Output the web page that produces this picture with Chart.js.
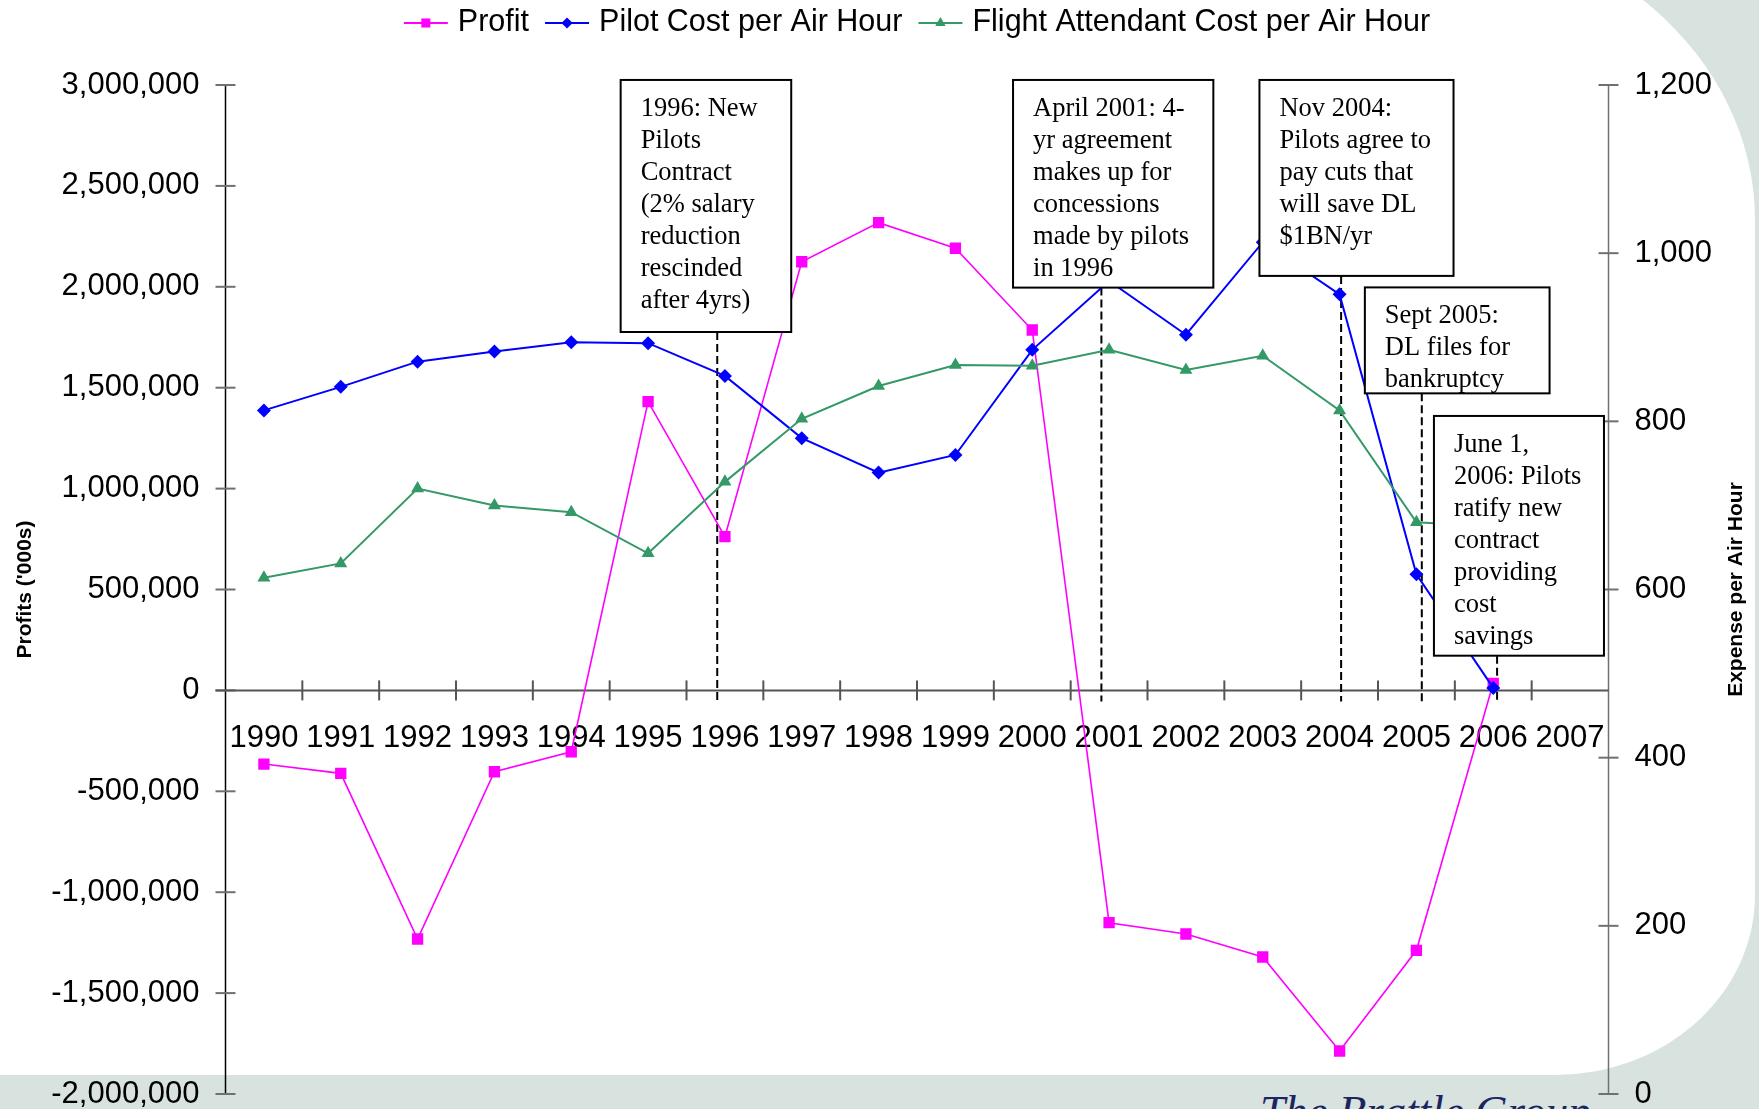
<!DOCTYPE html>
<html>
<head>
<meta charset="utf-8">
<script src="https://cdn.jsdelivr.net/npm/chart.js@4.4.1/dist/chart.umd.min.js"></script>
<style>
html,body{margin:0;padding:0;width:1759px;height:1109px;overflow:hidden;background:#d8e2df;}
#panel{position:absolute;left:-60px;top:-80px;width:1815px;height:1155px;background:#fff;
  border-top-right-radius:350px 300px;border-bottom-right-radius:200px 180px;}
#wrap{position:absolute;left:0;top:0;width:1759px;height:1109px;}
#brand{position:absolute;left:1260px;top:1089px;font:italic 45px 'Liberation Serif',serif;line-height:1;color:#1b2660;white-space:nowrap;}
</style>
</head>
<body>
<div id="panel"></div>
<div id="brand">The Brattle Group</div>
<div id="wrap"><canvas id="c" width="1759" height="1109" style="width:1759px;height:1109px"></canvas></div>
<script>
// ---------- data ----------
const years = ['1990','1991','1992','1993','1994','1995','1996','1997','1998','1999','2000','2001','2002','2003','2004','2005','2006','2007'];
const profit = [-365000,-411000,-1232000,-403000,-304000,1431000,762000,2124000,2318000,2191000,1786000,-1151000,-1207000,-1321000,-1787000,-1288000,35000,null];
const pilotCost = [813,841,871,883,894,893,854,780,739,760,885,967,903,1013,951,618,483,null];
const attendantCost = [614,631,720,700,692,643,728,803,842,867,866,885,861,878,813,680,675,null];
const profitTicks = [-2000000,-1500000,-1000000,-500000,0,500000,1000000,1500000,2000000,2500000,3000000];
const expenseTicks = [0,200,400,600,800,1000,1200];
const seriesNames = ['Profit','Pilot Cost per Air Hour','Flight Attendant Cost per Air Hour'];
const axisTitles = ["Profits ('000s)", 'Expense per Air Hour'];

// annotation callouts: event position on category axis, box span (category units / profit units)
const notes = [
  {event: 5.9,   x: [4.643, 6.863],   y: [3025000, 1776000], lines: ['1996: New','Pilots','Contract','(2% salary','reduction','rescinded','after 4yrs)']},
  {event: 10.9,  x: [9.750, 12.357],  y: [3025000, 1996000], lines: ['April 2001: 4-','yr agreement','makes up for','concessions','made by pilots','in 1996']},
  {event: 14.02, x: [12.957, 15.483], y: [3025000, 2054000], lines: ['Nov 2004:','Pilots agree to','pay cuts that','will save DL','$1BN/yr']},
  {event: 15.07, x: [14.329, 16.733], y: [1997000, 1472000], lines: ['Sept 2005:','DL files for','bankruptcy']},
  {event: 16.05, x: [15.228, 17.441], y: [1360000, 172000],  lines: ['June 1,','2006: Pilots','ratify new','contract','providing','cost','savings']}
];
const eventLineBottom = -55000;

const SANS = '"Liberation Sans", Arial, sans-serif';
const SERIF = '"Liberation Serif", "Times New Roman", serif';

function marker(ctx, style, cx, cy, r) {
  ctx.beginPath();
  if (style === 'rect') { const s = r * Math.SQRT1_2; ctx.rect(cx - s, cy - s, 2 * s, 2 * s); }
  else if (style === 'rectRot') { ctx.moveTo(cx, cy - r); ctx.lineTo(cx + r, cy); ctx.lineTo(cx, cy + r); ctx.lineTo(cx - r, cy); ctx.closePath(); }
  else { ctx.moveTo(cx, cy - r); ctx.lineTo(cx + r * 0.866, cy + r / 2); ctx.lineTo(cx - r * 0.866, cy + r / 2); ctx.closePath(); }
  ctx.fill();
}
function seg(ctx, x1, y1, x2, y2) { ctx.beginPath(); ctx.moveTo(x1, y1); ctx.lineTo(x2, y2); ctx.stroke(); }

const deco = {
  id: 'deco',
  beforeDatasetsDraw(chart) {
    const {ctx, chartArea: a, scales: {x, y, y1}} = chart;
    ctx.save();
    // axis lines
    ctx.strokeStyle = '#000'; ctx.lineWidth = 1.5;
    seg(ctx, a.left, a.top, a.left, a.bottom);
    ctx.strokeStyle = '#707070';
    seg(ctx, a.right, a.top, a.right, a.bottom);
    // y ticks (cross)
    ctx.strokeStyle = '#707070'; ctx.lineWidth = 2;
    y.ticks.forEach(t => { const p = y.getPixelForValue(t.value); seg(ctx, a.left - 10, p, a.left + 10, p); });
    y1.ticks.forEach(t => { const p = y1.getPixelForValue(t.value); seg(ctx, a.right - 10, p, a.right + 10, p); });
    // x axis at profit = 0
    const y0 = y.getPixelForValue(0);
    ctx.strokeStyle = '#555'; ctx.lineWidth = 2;
    seg(ctx, a.left - 10, y0, a.right, y0);
    for (let i = 1; i < years.length; i++) {
      const p = (x.getPixelForValue(i - 1) + x.getPixelForValue(i)) / 2;
      seg(ctx, p, y0 - 10, p, y0 + 10);
    }
    // event dashed lines
    ctx.strokeStyle = '#000'; ctx.lineWidth = 2; ctx.setLineDash([8, 4]);
    notes.forEach(n => {
      const px = x.getPixelForValue(n.event);
      seg(ctx, px, y.getPixelForValue(n.y[1]), px, y.getPixelForValue(eventLineBottom));
    });
    ctx.restore();
  },
  afterDatasetsDraw(chart) {
    const {ctx, scales: {x, y}} = chart;
    ctx.save();
    notes.forEach(n => {
      const l = x.getPixelForValue(n.x[0]), r = x.getPixelForValue(n.x[1]);
      const t = y.getPixelForValue(n.y[0]), b = y.getPixelForValue(n.y[1]);
      ctx.fillStyle = '#fff'; ctx.fillRect(l, t, r - l, b - t);
      ctx.strokeStyle = '#000'; ctx.lineWidth = 2; ctx.strokeRect(l, t, r - l, b - t);
      ctx.fillStyle = '#000'; ctx.font = '26.5px ' + SERIF; ctx.textBaseline = 'alphabetic'; ctx.textAlign = 'left';
      n.lines.forEach((s, i) => ctx.fillText(s, l + 20, t + 36 + 32 * i));
    });
    ctx.restore();
  },
  afterDraw(chart) {
    const {ctx, chartArea: a} = chart;
    ctx.save();
    // legend
    ctx.font = '30.5px ' + SANS;
    const items = chart.data.datasets.map(ds => ({ds, w: ctx.measureText(ds.label).width}));
    const symW = 44, gap1 = 10, gap2 = 16;
    const total = items.reduce((s, it) => s + symW + gap1 + it.w, 0) + gap2 * (items.length - 1);
    let sx = (a.left + a.right) / 2 - total / 2;
    const ly = 23;
    items.forEach(it => {
      ctx.strokeStyle = it.ds.borderColor; ctx.lineWidth = 1.8;
      seg(ctx, sx, ly, sx + symW, ly);
      ctx.fillStyle = it.ds.pointBackgroundColor;
      marker(ctx, it.ds.pointStyle, sx + symW / 2, ly, it.ds.pointRadius * 0.8);
      ctx.fillStyle = '#000'; ctx.textBaseline = 'alphabetic'; ctx.textAlign = 'left';
      ctx.fillText(it.ds.label, sx + symW + gap1, 31);
      sx += symW + gap1 + it.w + gap2;
    });
    // axis titles (both read bottom-to-top)
    ctx.font = 'bold 21px ' + SANS; ctx.textAlign = 'center'; ctx.textBaseline = 'middle'; ctx.fillStyle = '#000';
    const cy = (a.top + a.bottom) / 2;
    [[25, axisTitles[0]], [1736, axisTitles[1]]].forEach(([cx, txt]) => {
      ctx.save(); ctx.translate(cx, cy); ctx.rotate(-Math.PI / 2); ctx.fillText(txt, 0, 0); ctx.restore();
    });
    ctx.restore();
  }
};

const tickFont = {family: SANS, size: 31};
new Chart(document.getElementById('c'), {
  type: 'line',
  data: {
    labels: years,
    datasets: [
      {label: seriesNames[0], data: profit, yAxisID: 'y', order: 3, borderColor: '#ff00ff', backgroundColor: '#ff00ff',
       pointBackgroundColor: '#ff00ff', pointBorderColor: '#ff00ff', borderWidth: 1.6, pointStyle: 'rect', pointRadius: 8, pointBorderWidth: 0, tension: 0},
      {label: seriesNames[1], data: pilotCost, yAxisID: 'y1', order: 2, borderColor: '#0000ff', backgroundColor: '#0000ff',
       pointBackgroundColor: '#0000ff', pointBorderColor: '#0000ff', borderWidth: 2, pointStyle: 'rectRot', pointRadius: 7, pointBorderWidth: 0, tension: 0},
      {label: seriesNames[2], data: attendantCost, yAxisID: 'y1', order: 1, borderColor: '#339966', backgroundColor: '#339966',
       pointBackgroundColor: '#339966', pointBorderColor: '#339966', borderWidth: 2, pointStyle: 'triangle', pointRadius: 7.5, pointBorderWidth: 0, tension: 0}
    ]
  },
  options: {
    responsive: false, animation: false, devicePixelRatio: 1,
    layout: {padding: {top: 85, bottom: 15, left: 0, right: 0}},
    plugins: {legend: {display: false}, tooltip: {enabled: false}},
    scales: {
      x: {
        type: 'category', position: {y: 0}, offset: true,
        grid: {display: false, drawTicks: false, offset: true}, border: {display: false},
        ticks: {font: tickFont, color: '#000', padding: 29, maxRotation: 0, minRotation: 0, autoSkip: false},
        afterFit(s) { s.paddingLeft = 0; s.paddingRight = 0; }
      },
      y: {
        type: 'linear', position: 'left', min: -2000000, max: 3000000,
        afterBuildTicks(s) { s.ticks = profitTicks.map(v => ({value: v})); },
        grid: {display: false, drawTicks: false}, border: {display: false},
        ticks: {font: tickFont, color: '#000', padding: 26, callback: v => v.toLocaleString('en-US')},
        afterFit(s) { s.width = 225.5; s.paddingTop = 0; s.paddingBottom = 0; }
      },
      y1: {
        type: 'linear', position: 'right', min: 0, max: 1200,
        afterBuildTicks(s) { s.ticks = expenseTicks.map(v => ({value: v})); },
        grid: {display: false, drawTicks: false}, border: {display: false},
        ticks: {font: tickFont, color: '#000', padding: 26, callback: v => v.toLocaleString('en-US')},
        afterFit(s) { s.width = 150.5; s.paddingTop = 0; s.paddingBottom = 0; }
      }
    }
  },
  plugins: [deco]
});
</script>
</body>
</html>
